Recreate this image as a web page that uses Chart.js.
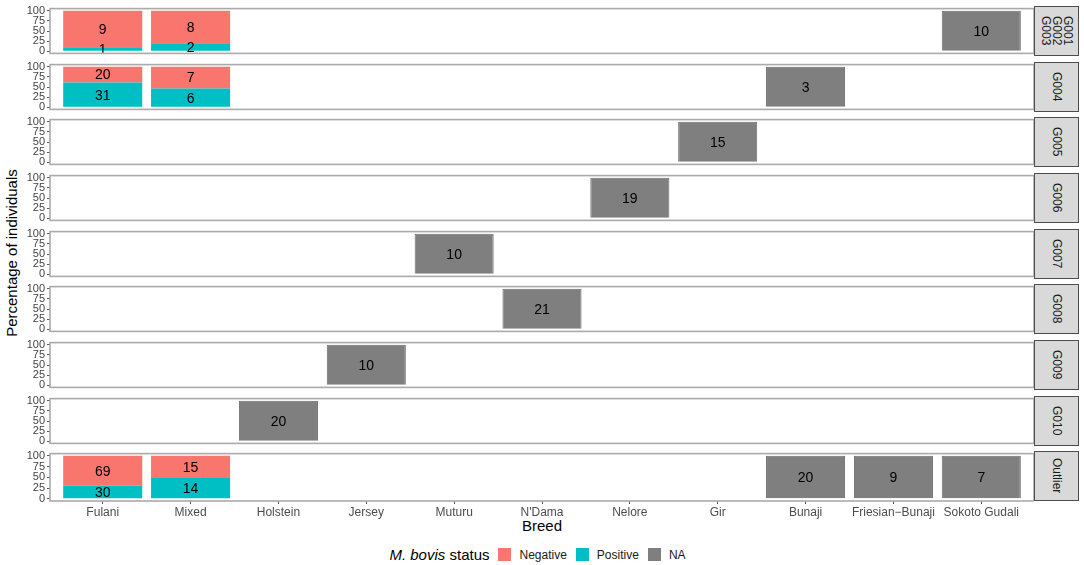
<!DOCTYPE html>
<html>
<head>
<meta charset="utf-8">
<script src="https://cdn.jsdelivr.net/npm/chart.js@4.4.0/dist/chart.umd.min.js"></script>
<style>
  body { margin: 0; background: #fff; font-family: "Liberation Sans", Arial, sans-serif; }
  #fig { position: relative; width: 1084px; height: 565px; overflow: hidden; }
  #fig canvas { position: absolute; left: 0; }
  .strip { position: absolute; left: 1034px; width: 45px; background: #d9d9d9; border: 1px solid #4d4d4d;
           box-sizing: border-box; display: flex; align-items: center; justify-content: center; }
  .strip span { writing-mode: vertical-rl; font-size: 12px; color: #1a1a1a; line-height: 11px; text-align: center; white-space: pre; }
  .ytitle { position: absolute; left: -188px; top: 244px; width: 400px; text-align: center; font-size: 15px;
            line-height: 18px; transform: rotate(-90deg); }
  .xtitle { position: absolute; left: 0; top: 517px; width: 1084px; text-align: center; font-size: 15px; line-height: 18px; }
  .legend { position: absolute; left: 0; top: 546px; width: 1084px; display: flex; justify-content: center; align-items: center; }
  .legend .title { font-size: 15px; margin-right: 9px; }
  .legend .key { width: 13px; height: 13px; margin-right: 8px; }
  .legend .lab { font-size: 12px; margin-right: 9px; color: #1a1a1a; }
</style>
</head>
<body>
<div id="fig">
  <div class="ytitle">Percentage of individuals</div>
  <div class="xtitle">Breed</div>
  <div class="legend">
    <span class="title"><i>M. bovis</i> status</span>
    <span class="key" style="background:#F8766D"></span><span class="lab">Negative</span>
    <span class="key" style="background:#00BFC4"></span><span class="lab">Positive</span>
    <span class="key" style="background:#7F7F7F"></span><span class="lab">NA</span>
  </div>
</div>
<script>
const breeds = ['Fulani', 'Mixed', 'Holstein', 'Jersey', 'Muturu', "N'Dama", 'Nelore', 'Gir',
                'Bunaji', 'Friesian\u2212Bunaji', 'Sokoto Gudali'];
const groups = ['G001\nG002\nG003', 'G004', 'G005', 'G006', 'G007', 'G008', 'G009', 'G010', 'Outlier'];
const yTicks = [0, 25, 50, 75, 100];

// number of individuals per group (rows) and breed (columns)
const negative = [
  [9, 8, 0, 0, 0, 0, 0, 0, 0, 0, 0],
  [20, 7, 0, 0, 0, 0, 0, 0, 0, 0, 0],
  [0, 0, 0, 0, 0, 0, 0, 0, 0, 0, 0],
  [0, 0, 0, 0, 0, 0, 0, 0, 0, 0, 0],
  [0, 0, 0, 0, 0, 0, 0, 0, 0, 0, 0],
  [0, 0, 0, 0, 0, 0, 0, 0, 0, 0, 0],
  [0, 0, 0, 0, 0, 0, 0, 0, 0, 0, 0],
  [0, 0, 0, 0, 0, 0, 0, 0, 0, 0, 0],
  [69, 15, 0, 0, 0, 0, 0, 0, 0, 0, 0]
];
const positive = [
  [1, 2, 0, 0, 0, 0, 0, 0, 0, 0, 0],
  [31, 6, 0, 0, 0, 0, 0, 0, 0, 0, 0],
  [0, 0, 0, 0, 0, 0, 0, 0, 0, 0, 0],
  [0, 0, 0, 0, 0, 0, 0, 0, 0, 0, 0],
  [0, 0, 0, 0, 0, 0, 0, 0, 0, 0, 0],
  [0, 0, 0, 0, 0, 0, 0, 0, 0, 0, 0],
  [0, 0, 0, 0, 0, 0, 0, 0, 0, 0, 0],
  [0, 0, 0, 0, 0, 0, 0, 0, 0, 0, 0],
  [30, 14, 0, 0, 0, 0, 0, 0, 0, 0, 0]
];
const notTested = [
  [0, 0, 0, 0, 0, 0, 0, 0, 0, 0, 10],
  [0, 0, 0, 0, 0, 0, 0, 0, 3, 0, 0],
  [0, 0, 0, 0, 0, 0, 0, 15, 0, 0, 0],
  [0, 0, 0, 0, 0, 0, 19, 0, 0, 0, 0],
  [0, 0, 0, 0, 10, 0, 0, 0, 0, 0, 0],
  [0, 0, 0, 0, 0, 21, 0, 0, 0, 0, 0],
  [0, 0, 0, 10, 0, 0, 0, 0, 0, 0, 0],
  [0, 0, 20, 0, 0, 0, 0, 0, 0, 0, 0],
  [0, 0, 0, 0, 0, 0, 0, 0, 20, 9, 7]
];

const FONT = '"Liberation Sans", Arial, sans-serif';
Chart.defaults.font.family = FONT;

// counts -> stacked percentages, keep count for the label
function toBars(counts, g) {
  const out = [];
  counts[g].forEach((n, i) => {
    if (!n) return;
    const total = negative[g][i] + positive[g][i] + notTested[g][i];
    out.push({ x: i, y: n / total * 100, n: n });
  });
  return out;
}

const panelPlugin = {
  id: 'panel',
  afterDatasetsDraw(chart) {
    const ctx = chart.ctx;
    ctx.save();
    ctx.font = '14px ' + FONT;
    ctx.fillStyle = '#000';
    ctx.textAlign = 'center';
    ctx.textBaseline = 'middle';
    chart.data.datasets.forEach((ds, di) => {
      chart.getDatasetMeta(di).data.forEach((bar, j) => {
        const p = bar.getProps(['x', 'y', 'base'], true);
        ctx.fillText(ds.data[j].n, p.x, (p.y + p.base) / 2 + 1);
      });
    });
    const a = chart.chartArea;
    ctx.strokeStyle = '#aaaaaa';
    ctx.lineWidth = 1.6;
    ctx.strokeRect(a.left, a.top, a.width, a.height);
    ctx.restore();
  }
};

const fig = document.getElementById('fig');
const PAD = 6, PH = 50;

groups.forEach((g, gi) => {
  const top = Math.round(6 + 55.67 * gi);
  const last = gi === groups.length - 1;

  const strip = document.createElement('div');
  strip.className = 'strip';
  strip.style.top = top + 'px';
  strip.style.height = PH + 'px';
  strip.innerHTML = '<span>' + g + '</span>';
  fig.appendChild(strip);

  const cv = document.createElement('canvas');
  cv.width = 1034;
  cv.height = PAD + PH + (last ? 20 : PAD);
  cv.style.top = (top - PAD) + 'px';
  fig.appendChild(cv);

  new Chart(cv, {
    type: 'bar',
    data: {
      datasets: [
        { label: 'Positive', data: toBars(positive, gi), backgroundColor: '#00BFC4', borderColor: '#00BFC4', borderWidth: 0 },
        { label: 'Negative', data: toBars(negative, gi), backgroundColor: '#F8766D', borderColor: '#F8766D', borderWidth: 0 },
        { label: 'NA', data: toBars(notTested, gi), backgroundColor: '#7F7F7F', borderColor: '#6c6c6c', borderWidth: 1 }
      ]
    },
    options: {
      responsive: false,
      animation: false,
      layout: { padding: { top: PAD, bottom: last ? 0 : PAD, left: 0, right: 0 } },
      datasets: { bar: { barPercentage: 0.9, categoryPercentage: 1 } },
      plugins: { legend: { display: false }, tooltip: { enabled: false } },
      scales: {
        x: {
          type: 'linear',
          stacked: true,
          offset: false,
          min: -0.6,
          max: 10.6,
          afterBuildTicks: s => { s.ticks = breeds.map((b, i) => ({ value: i })); },
          afterFit: s => { s.height = last ? 20 : 0; s.paddingLeft = 0; s.paddingRight = 0; },
          ticks: {
            display: last,
            autoSkip: false,
            maxRotation: 0,
            padding: 1,
            color: '#4d4d4d',
            font: { size: 12 },
            callback: v => breeds[v]
          },
          grid: { display: last, offset: false, drawOnChartArea: false, drawTicks: true, tickLength: 3, color: '#555' },
          border: { display: false }
        },
        y: {
          stacked: true,
          min: -5,
          max: 105,
          afterBuildTicks: s => { s.ticks = yTicks.map(v => ({ value: v })); },
          afterFit: s => { s.width = 50; },
          ticks: { color: '#444', font: { size: 11 }, padding: 2, autoSkip: false },
          grid: { drawOnChartArea: false, drawTicks: true, tickLength: 3, color: '#555' },
          border: { display: false }
        }
      }
    },
    plugins: [panelPlugin]
  });
});
</script>
</body>
</html>
